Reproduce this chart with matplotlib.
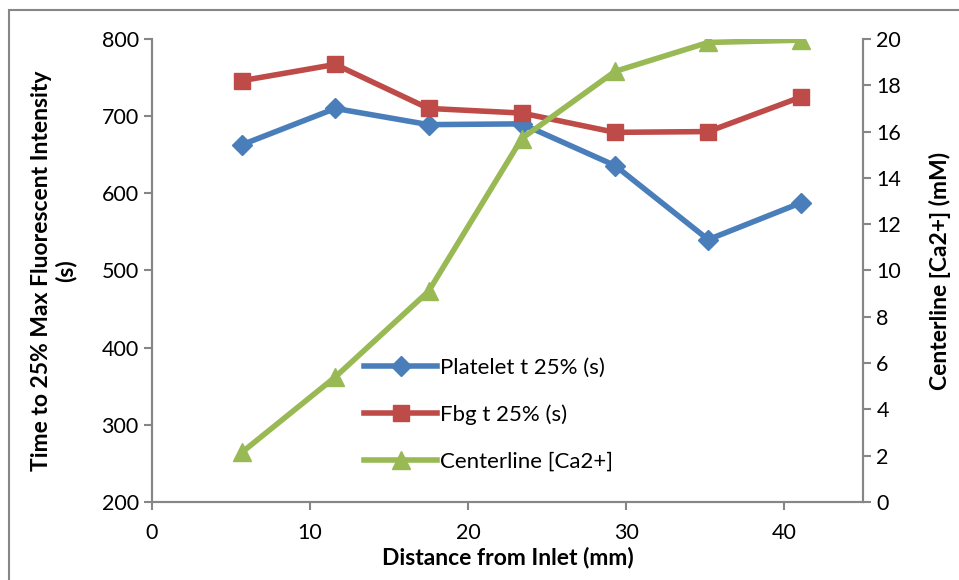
import matplotlib.pyplot as plt
from matplotlib.patches import Rectangle

# Data
distance_mm = [5.7, 11.6, 17.5, 23.4, 29.3, 35.2, 41.1]
platelet_t25 = [663, 710, 689, 690, 636, 540, 588]
fbg_t25 = [746, 767, 710, 704, 679, 680, 725]
centerline_ca = [2.15, 5.4, 9.1, 15.7, 18.6, 19.85, 19.95]

left_ticks = [200, 300, 400, 500, 600, 700, 800]
right_ticks = [0, 2, 4, 6, 8, 10, 12, 14, 16, 18, 20]
x_ticks = [0, 10, 20, 30, 40]

blue = '#4a7ebb'
red = '#be4b48'
green = '#98b954'
axis_gray = '#868686'

plt.rcParams['font.family'] = ['Lato', 'DejaVu Sans']

fig = plt.figure(figsize=(9.59, 5.8), dpi=100)
ax = fig.add_axes([0.1585, 0.1345, 0.7415, 0.7983])
ax2 = ax.twinx()

l1, = ax.plot(distance_mm, platelet_t25, color=blue, linewidth=4,
              marker='D', markersize=10, label='Platelet t 25% (s)')
l2, = ax.plot(distance_mm, fbg_t25, color=red, linewidth=4,
              marker='s', markersize=12, label='Fbg t 25% (s)')
l3, = ax2.plot(distance_mm, centerline_ca, color=green, linewidth=4,
               marker='^', markersize=13, label='Centerline [Ca2+]')

ax.set_xlim(0, 45)
ax.set_ylim(200, 800)
ax2.set_ylim(0, 20)
ax.set_xticks(x_ticks)
ax.set_yticks(left_ticks)
ax2.set_yticks(right_ticks)

for a in (ax, ax2):
    a.spines['top'].set_visible(False)
    for s in ('left', 'right', 'bottom'):
        a.spines[s].set_color(axis_gray)
        a.spines[s].set_linewidth(1.5)
    a.tick_params(colors=axis_gray, labelcolor='black', labelsize=15.5,
                  width=1.5, length=6, direction='out')
ax.tick_params(axis='x', pad=9)

ax.set_xlabel('Distance from Inlet (mm)', fontsize=16.5, fontweight='bold', labelpad=3)
ax.set_ylabel('Time to 25% Max Fluorescent Intensity\n(s)', fontsize=16.5,
              fontweight='bold', labelpad=18, linespacing=1.15)
ax2.set_ylabel('Centerline [Ca2+] (mM)', fontsize=16.5, fontweight='bold', labelpad=20)

ax.legend(handles=[l1, l2, l3], loc='upper left', bbox_to_anchor=(0.27, 0.355),
          frameon=False, fontsize=16, labelspacing=1.2, handlelength=3.3,
          handletextpad=0.1)

# Chart area border
fig.patches.append(Rectangle((9 / 959, -0.1), 1.2, 1 - 10 / 580 + 0.1,
                             transform=fig.transFigure, fill=False,
                             edgecolor=axis_gray, linewidth=1.5))

fig.savefig('out.png', dpi=100)
